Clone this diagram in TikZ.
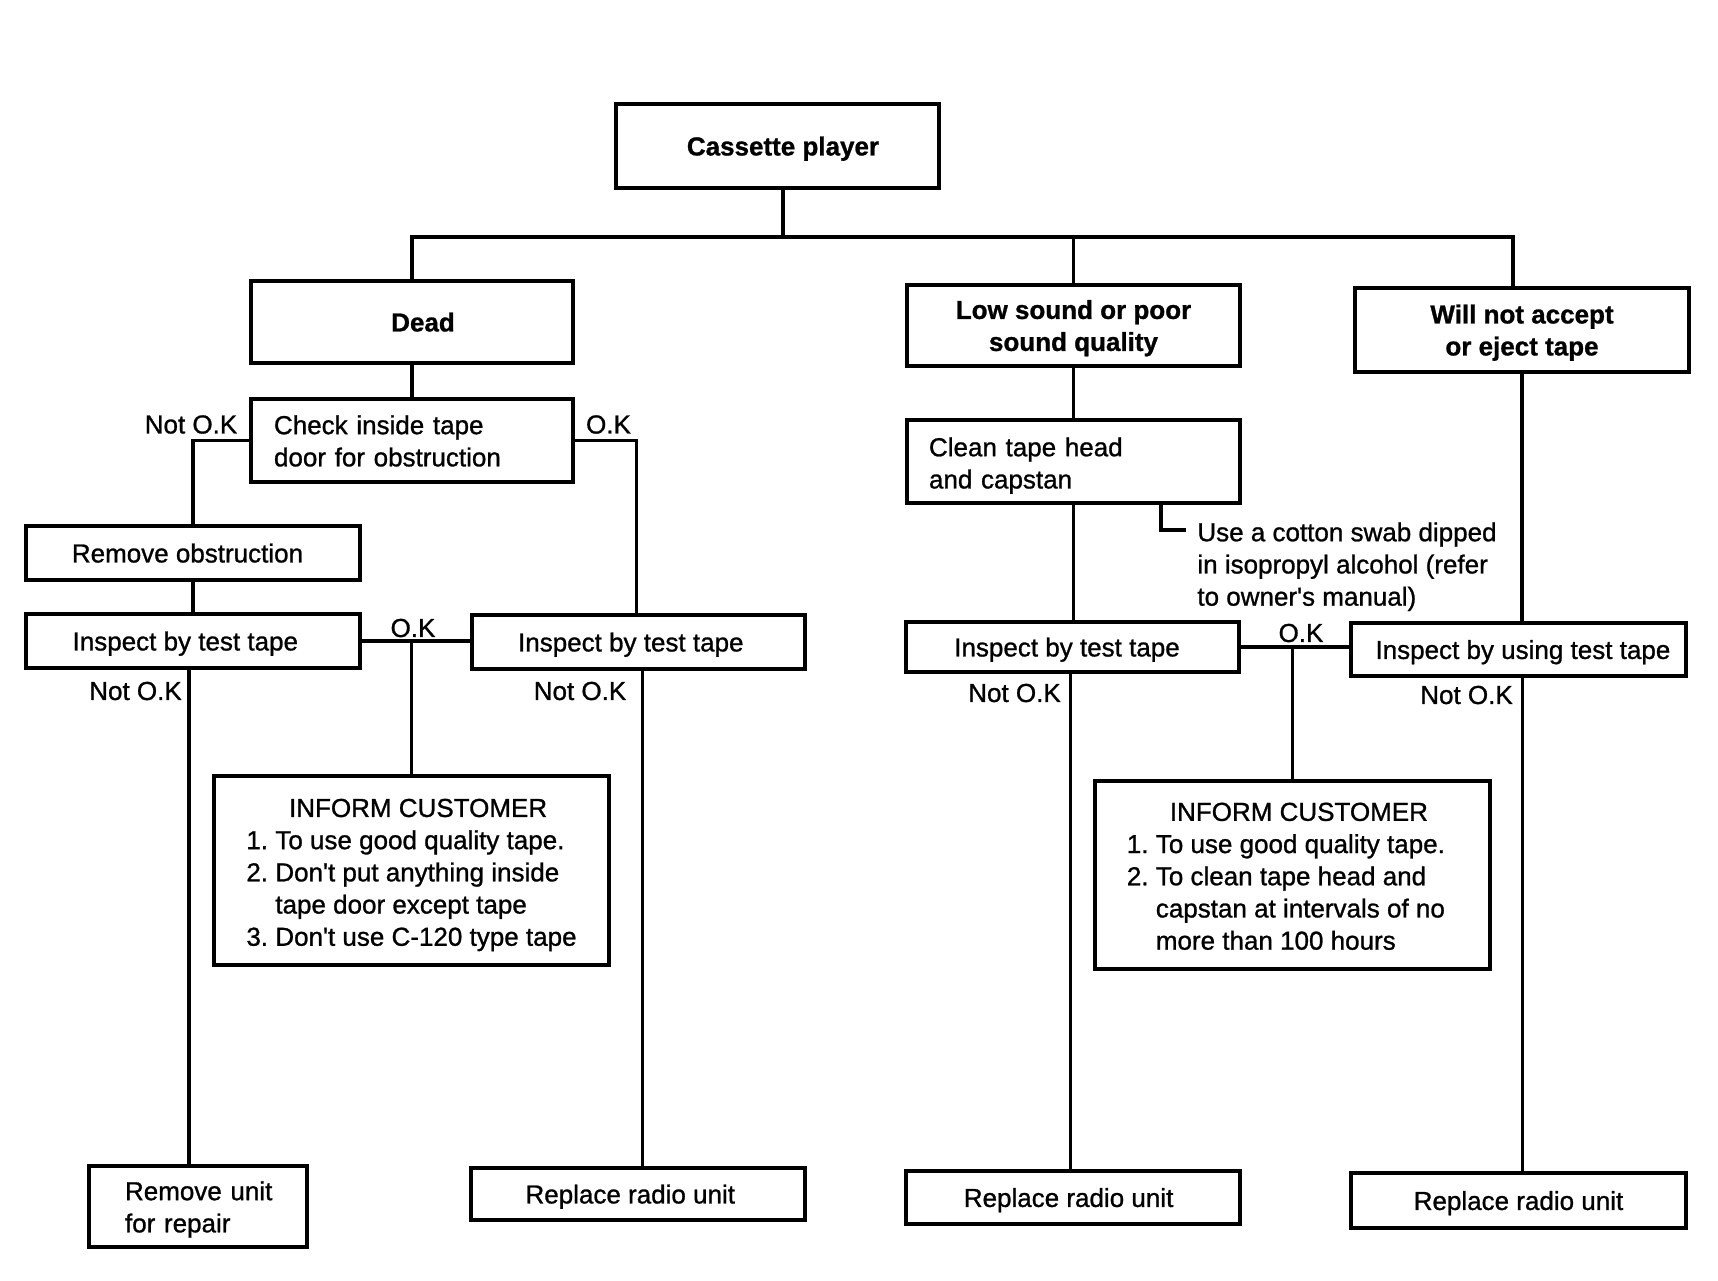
\documentclass[tikz,border=0pt]{standalone}
\usepackage{fontspec}
\setmainfont{Liberation Sans}
\newfontfamily\regf{Liberation Sans}[FakeBold=1]
\newfontfamily\boldf{Liberation Sans Bold}[FakeBold=1]
\begin{document}
\begin{tikzpicture}[x=0.5pt,y=-0.5pt,
  every node/.style={font=\fontsize{13}{16.1}\selectfont\regf},
  boxbase/.style={draw, line width=1.6pt, inner sep=0pt, align=center},
  box/.style={boxbase, text depth=0pt},
  hdr/.style={box, font=\fontsize{13}{16}\selectfont\boldf},
  lbox/.style={boxbase, align=left},
  lbl/.style={inner sep=0pt},
  conn/.style={line width=1.6pt}]
\useasboundingbox[fill=white] (0,0) rectangle (1718,1280);

% boxes
\node[hdr, minimum width=161.5pt, minimum height=42pt] (cas) at (777.5,146) {\hspace*{5.5pt}Cassette player};
\node[hdr, minimum width=161pt, minimum height=41pt] (dead) at (412,322) {\hspace*{11pt}Dead};
\node[lbox, minimum width=161pt, minimum height=41.5pt, text width=138pt, inner xsep=11.5pt] (check) at (412,440.5)
  {\raisebox{-1.65pt}[\height][\depth]{\begin{tabular}{@{}l@{}}Check inside tape\\door for obstruction\end{tabular}}};
\node[box, minimum width=167pt, minimum height=27pt] (remobs) at (193,553) {Remove obstruction\hspace*{5.5pt}};
\node[box, minimum width=167pt, minimum height=27pt] (insp1) at (193,641) {Inspect by test tape\hspace*{7.7pt}};
\node[box, minimum width=166.5pt, minimum height=27pt] (insp2) at (638.5,642) {Inspect by test tape\hspace*{7.7pt}};
\node[boxbase, minimum width=197.5pt, minimum height=94.5pt] (inf1) at (411.5,870.5)
  {\raisebox{-2.2pt}[\height][\depth]{\begin{tabular}{@{}l@{\hspace{0.28em}}l@{}}\multicolumn{2}{c}{\hspace*{6.6pt}INFORM CUSTOMER}\\
   1. & To use good quality tape.\\
   2. & Don't put anything inside\\
      & tape door except tape\\
   3. & Don't use C-120 type tape\end{tabular}}};
\node[lbox, minimum width=109pt, minimum height=40.5pt, text width=73pt, inner xsep=18pt] (remunit) at (198,1206.5)
  {\raisebox{-1.65pt}[\height][\depth]{\begin{tabular}{@{}l@{}}Remove unit\\for repair\end{tabular}}};
\node[box, minimum width=167pt, minimum height=26pt] (rep1) at (638,1194) {Replace radio unit\hspace*{7.7pt}};

\node[hdr, minimum width=166.5pt, minimum height=40.5pt] (low) at (1073.5,325.5) {Low sound or poor\\sound quality};
\node[hdr, minimum width=167pt, minimum height=42pt] (will) at (1522,330) {Will not accept\\or eject tape};
\node[lbox, minimum width=166.5pt, minimum height=41.5pt, text width=144.5pt, inner xsep=11pt] (clean) at (1073.5,461.5)
  {\raisebox{-2.2pt}[\height][\depth]{\begin{tabular}{@{}l@{}}Clean tape head\\and capstan\end{tabular}}};
\node[box, minimum width=166.5pt, minimum height=25pt] (insp3) at (1072.5,647) {Inspect by test tape\hspace*{5.5pt}};
\node[box, minimum width=167.5pt, minimum height=26.5pt] (insp4) at (1518.5,649.5) {\hspace*{4.4pt}Inspect by using test tape};
\node[boxbase, minimum width=197.5pt, minimum height=94pt] (inf2) at (1292.5,875)
  {\raisebox{-1.9pt}[\height][\depth]{\begin{tabular}{@{}l@{\hspace{0.28em}}l@{}}\multicolumn{2}{c}{\hspace*{13pt}INFORM CUSTOMER}\\
   1. & To use good quality tape.\\
   2. & To clean tape head and\\
      & capstan at intervals of no\\
      & more than 100 hours\end{tabular}}\hspace*{6.6pt}};
\node[box, minimum width=167pt, minimum height=26.5pt] (rep2) at (1073,1197.5) {Replace radio unit\hspace*{4.4pt}};
\node[box, minimum width=167.5pt, minimum height=27.5pt] (rep3) at (1518.5,1200.5) {Replace radio unit};

% labels
\node[lbl] (nok1) at (191,424.5) {Not O.K};
\node[lbl] (ok1) at (608.5,424.5) {O.K};
\node[lbl] (ok2) at (413,628) {O.K};
\node[lbl] (nok2) at (135.5,691) {Not O.K};
\node[lbl] (nok3) at (580,691) {Not O.K};
\node[lbl] (nok4) at (1014.5,693) {Not O.K};
\node[lbl] (ok3) at (1301,633) {O.K};
\node[lbl] (nok5) at (1466.5,695) {Not O.K};
\node[lbl, align=left, anchor=north west] (note) at (1197,522) {Use a cotton swab dipped\\in isopropyl alcohol (refer\\to owner's manual)};

% connectors
\coordinate (busR) at (1513,237);
\coordinate (brk) at (1161,530);
\coordinate (brkE) at (1186,530);
\draw[conn] ([xshift=2.75pt]cas.south) -- ([xshift=2.75pt]cas.south |- busR);
\draw[conn] (dead.north) |- (busR) -- (busR |- will.north);
\draw[conn] (low.north) -- (low.north |- busR);
\draw[conn] (dead.south) -- (check.north);
\draw[conn] (check.west) -| (remobs.north);
\draw[conn] (check.east) -| ([xshift=-1pt]insp2.north);
\draw[conn] (remobs.south) -- (insp1.north);
\draw[conn] (insp1.east) -- (insp1.east -| insp2.west);
\draw[conn] (inf1.north) -- (inf1.north |- insp1.east);
\draw[conn] ([xshift=-2pt]insp1.south) -- ([xshift=-2pt]insp1.south |- remunit.north);
\draw[conn] ([xshift=2pt]insp2.south) -- ([xshift=2pt]insp2.south |- rep1.north);
\draw[conn] (low.south) -- (clean.north);
\draw[conn] (clean.south) -- (clean.south |- insp3.north);
\draw[conn] (clean.south -| brk) -- (brk) -- (brkE);
\draw[conn] (will.south) -- (will.south |- insp4.north);
\draw[conn] (insp3.east) -- (insp3.east -| insp4.west);
\draw[conn] (inf2.north) -- (inf2.north |- insp3.east);
\draw[conn] ([xshift=-1pt]insp3.south) -- ([xshift=-1pt]insp3.south |- rep2.north);
\draw[conn] ([xshift=2pt]insp4.south) -- ([xshift=2pt]insp4.south |- rep3.north);
\end{tikzpicture}
\end{document}
